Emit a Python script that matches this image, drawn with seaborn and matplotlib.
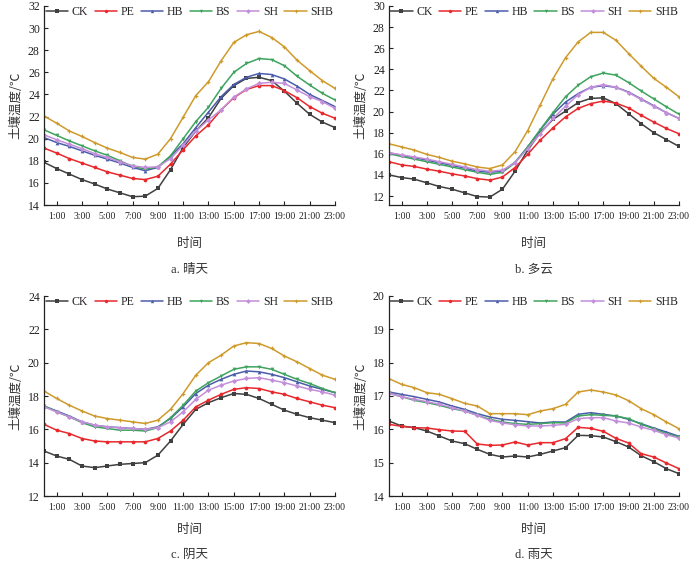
import numpy as np
import pandas as pd
import matplotlib
matplotlib.use("Agg")
import matplotlib.pyplot as plt
import seaborn as sns

hours = list(range(24))
series = ["CK", "PE", "HB", "BS", "SH", "SHB"]
tick_hours = [1, 3, 5, 7, 9, 11, 13, 15, 17, 19, 21, 23]
tick_labels = [f"{h}:00" for h in tick_hours]

# a. 晴天
a_CK = [17.86, 17.3, 16.8, 16.3, 15.9, 15.45, 15.1, 14.75, 14.8, 15.5, 17.2, 19.2, 20.7, 21.9, 23.65, 24.8, 25.45, 25.55, 25.25, 24.3, 23.2, 22.2, 21.5, 21.0]
a_PE = [19.15, 18.7, 18.2, 17.8, 17.4, 17.0, 16.7, 16.4, 16.3, 16.6, 17.7, 19.0, 20.25, 21.25, 22.6, 23.7, 24.45, 24.8, 24.8, 24.35, 23.7, 22.9, 22.3, 21.85]
a_HB = [20.1, 19.65, 19.3, 18.9, 18.5, 18.15, 17.8, 17.4, 17.1, 17.4, 18.4, 19.55, 21.0, 22.4, 23.8, 24.9, 25.55, 25.9, 25.8, 25.4, 24.75, 24.0, 23.45, 22.9]
a_BS = [20.8, 20.3, 19.8, 19.35, 18.9, 18.5, 18.0, 17.5, 17.25, 17.45, 18.45, 20.0, 21.55, 22.85, 24.55, 26.0, 26.8, 27.25, 27.15, 26.6, 25.65, 24.85, 24.1, 23.5]
a_SH = [20.35, 19.9, 19.5, 19.1, 18.65, 18.3, 17.9, 17.55, 17.4, 17.45, 18.2, 19.4, 20.7, 21.7, 22.6, 23.75, 24.5, 25.0, 25.1, 25.0, 24.4, 23.8, 23.35, 22.75]
a_SHB = [22.05, 21.4, 20.7, 20.2, 19.65, 19.15, 18.75, 18.3, 18.15, 18.6, 20.0, 21.95, 23.9, 25.15, 27.05, 28.7, 29.4, 29.7, 29.15, 28.3, 27.1, 26.15, 25.25, 24.55]

# b. 多云
b_CK = [14.0, 13.75, 13.6, 13.25, 12.9, 12.65, 12.3, 11.95, 11.9, 12.65, 14.35, 16.35, 18.0, 19.25, 20.05, 20.85, 21.25, 21.3, 20.75, 19.8, 18.85, 18.0, 17.35, 16.7]
b_PE = [15.25, 14.95, 14.8, 14.55, 14.35, 14.1, 13.9, 13.65, 13.5, 13.8, 14.7, 15.95, 17.3, 18.45, 19.5, 20.3, 20.75, 21.0, 20.8, 20.35, 19.65, 19.0, 18.4, 17.9]
b_HB = [16.1, 15.85, 15.65, 15.4, 15.15, 14.9, 14.65, 14.35, 14.25, 14.35, 15.2, 16.65, 18.25, 19.75, 20.9, 21.7, 22.3, 22.45, 22.3, 21.85, 21.2, 20.55, 19.9, 19.35]
b_BS = [16.0, 15.75, 15.5, 15.25, 15.0, 14.75, 14.5, 14.25, 14.05, 14.25, 15.15, 16.65, 18.3, 19.9, 21.4, 22.5, 23.3, 23.65, 23.45, 22.75, 21.95, 21.2, 20.45, 19.75]
b_SH = [16.1, 15.9, 15.7, 15.5, 15.25, 15.0, 14.75, 14.5, 14.35, 14.45, 15.15, 16.5, 17.9, 19.35, 20.5, 21.6, 22.3, 22.55, 22.3, 21.8, 21.15, 20.5, 19.9, 19.35]
b_SHB = [16.95, 16.65, 16.35, 15.95, 15.65, 15.3, 15.05, 14.75, 14.6, 14.95, 16.2, 18.2, 20.65, 23.1, 25.1, 26.6, 27.5, 27.5, 26.75, 25.5, 24.3, 23.15, 22.3, 21.4]

# c. 阴天
c_CK = [14.7, 14.4, 14.2, 13.8, 13.7, 13.8, 13.9, 13.95, 14.0, 14.45, 15.3, 16.3, 17.2, 17.6, 17.9, 18.15, 18.1, 17.85, 17.5, 17.15, 16.9, 16.7, 16.55, 16.4]
c_PE = [16.3, 15.95, 15.75, 15.45, 15.3, 15.25, 15.25, 15.25, 15.25, 15.45, 15.9, 16.55, 17.35, 17.75, 18.1, 18.4, 18.5, 18.45, 18.25, 18.1, 17.85, 17.65, 17.45, 17.3]
c_HB = [17.4, 17.1, 16.8, 16.45, 16.25, 16.15, 16.1, 16.05, 16.0, 16.15, 16.65, 17.35, 18.15, 18.65, 19.0, 19.3, 19.5, 19.45, 19.3, 19.1, 18.85, 18.6, 18.4, 18.2]
c_BS = [17.4, 17.05, 16.75, 16.4, 16.15, 16.05, 15.95, 15.95, 15.9, 16.1, 16.7, 17.45, 18.3, 18.8, 19.2, 19.6, 19.75, 19.75, 19.6, 19.3, 19.0, 18.75, 18.45, 18.2]
c_SH = [17.35, 17.05, 16.75, 16.45, 16.25, 16.15, 16.1, 16.05, 16.0, 16.1, 16.45, 17.05, 17.8, 18.35, 18.65, 18.9, 19.05, 19.1, 18.95, 18.8, 18.6, 18.4, 18.25, 18.05]
c_SHB = [18.3, 17.85, 17.45, 17.1, 16.8, 16.65, 16.55, 16.45, 16.35, 16.55, 17.2, 18.15, 19.25, 20.0, 20.45, 21.0, 21.2, 21.15, 20.85, 20.4, 20.05, 19.65, 19.25, 19.0]

# d. 雨天
d_CK = [16.25, 16.1, 16.05, 15.95, 15.8, 15.65, 15.57, 15.4, 15.25, 15.17, 15.2, 15.17, 15.25, 15.35, 15.45, 15.82, 15.81, 15.77, 15.63, 15.47, 15.21, 15.03, 14.82, 14.67]
d_PE = [16.15, 16.09, 16.05, 16.04, 15.99, 15.95, 15.94, 15.56, 15.52, 15.53, 15.62, 15.53, 15.6, 15.6, 15.72, 16.06, 16.03, 15.94, 15.73, 15.59, 15.27, 15.17, 14.99, 14.82]
d_HB = [17.12, 17.05, 16.98, 16.9, 16.82, 16.7, 16.6, 16.47, 16.37, 16.3, 16.27, 16.23, 16.19, 16.22, 16.22, 16.45, 16.5, 16.45, 16.4, 16.3, 16.17, 16.04, 15.92, 15.79]
d_BS = [17.08, 16.98, 16.87, 16.8, 16.72, 16.62, 16.55, 16.42, 16.3, 16.22, 16.17, 16.15, 16.17, 16.2, 16.19, 16.4, 16.44, 16.42, 16.4, 16.32, 16.15, 16.02, 15.87, 15.77]
d_SH = [17.08, 16.98, 16.9, 16.83, 16.75, 16.65, 16.55, 16.42, 16.27, 16.19, 16.14, 16.1, 16.1, 16.12, 16.15, 16.32, 16.35, 16.35, 16.25, 16.19, 16.07, 15.97, 15.84, 15.74]
d_SHB = [17.52, 17.35, 17.25, 17.1, 17.05, 16.92, 16.78, 16.7, 16.47, 16.47, 16.47, 16.44, 16.55, 16.62, 16.75, 17.12, 17.18, 17.12, 17.03, 16.86, 16.62, 16.44, 16.22, 16.02]

panels = [
    ("a. 晴天", [a_CK, a_PE, a_HB, a_BS, a_SH, a_SHB], (14, 32), [14, 16, 18, 20, 22, 24, 26, 28, 30, 32]),
    ("b. 多云", [b_CK, b_PE, b_HB, b_BS, b_SH, b_SHB], (11.15, 30), [12, 14, 16, 18, 20, 22, 24, 26, 28, 30]),
    ("c. 阴天", [c_CK, c_PE, c_HB, c_BS, c_SH, c_SHB], (12, 24), [12, 14, 16, 18, 20, 22, 24]),
    ("d. 雨天", [d_CK, d_PE, d_HB, d_BS, d_SH, d_SHB], (14, 20), [14, 15, 16, 17, 18, 19, 20]),
]

colors = {"CK": "#404040", "PE": "#e8282c", "HB": "#4b5cab", "BS": "#3da35d",
          "SH": "#c48fda", "SHB": "#cf9a2c"}
markers = {"CK": "s", "PE": "o", "HB": "^", "BS": "v", "SH": "D", "SHB": "P"}

sns.set_style("ticks")
plt.rcParams['font.family'] = ['Liberation Serif', 'Noto Sans CJK SC', 'DejaVu Sans']
cjk = ['Noto Sans CJK SC', 'DejaVu Sans']

fig = plt.figure(figsize=(7.0, 5.63), dpi=100)
W, H = 700, 563
boxes = [(44, 6, 335, 205), (389, 6, 679, 205), (44, 296, 335, 496), (389, 296, 679, 496)]
label_y = [(243, 270), (243, 270), (530, 555), (530, 555)]

for (title, vals, ylim, yticks), (l, t, r, b), (ly, cy) in zip(panels, boxes, label_y):
    ax = fig.add_axes([l / W, 1 - b / H, (r - l) / W, (b - t) / H])
    rows = []
    for name, v in zip(series, vals):
        for h, val in zip(hours, v):
            rows.append({"hour": h, "temp": val, "group": name})
    df = pd.DataFrame(rows)
    sns.lineplot(data=df, x="hour", y="temp", hue="group", style="group",
                 palette=colors, markers=markers, dashes=False, ax=ax,
                 linewidth=1.1, markersize=2.7, markeredgewidth=0)
    ax.set_xlim(0, 23)
    ax.set_ylim(*ylim)
    ax.set_yticks(yticks)
    ax.set_xticks(tick_hours)
    ax.set_xticklabels(tick_labels)
    ax.tick_params(axis="both", direction="in", length=3, width=0.8, colors="#222222")
    ax.tick_params(axis="y", labelsize=8.5, pad=3)
    ax.tick_params(axis="x", labelsize=7.0, pad=5)
    sns.despine(ax=ax)
    for s in ["left", "bottom"]:
        ax.spines[s].set_color("#222222")
        ax.spines[s].set_linewidth(0.9)
    ax.set_xlabel("")
    ax.set_ylabel("土壤温度/℃", family=cjk, fontsize=9, color="#333333", labelpad=4)
    ax.legend(loc="upper center", ncol=6, frameon=False, fontsize=8.5,
              handlelength=1.9, columnspacing=0.55, handletextpad=0.3,
              bbox_to_anchor=(0.5, 1.025), borderaxespad=0.0, markerscale=0.9)
    cx = (l + r) / 2 / W
    fig.text(cx, 1 - ly / H, "时间", family=cjk, fontsize=9, ha="center", va="center", color="#333333")
    fig.text(cx, 1 - cy / H, title, family=['Liberation Serif', 'Noto Sans CJK SC'], fontsize=9,
             ha="center", va="center", color="#333333")

fig.savefig("out.png", dpi=100)
